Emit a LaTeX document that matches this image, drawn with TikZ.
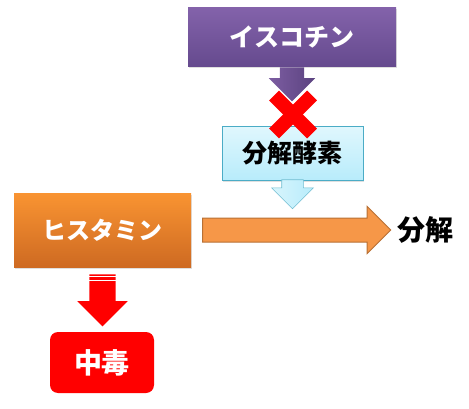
\documentclass[tikz,border=0pt]{standalone}
\usepackage{fontspec}
\usepackage{tikz}
\usetikzlibrary{positioning,shapes.arrows,shadows,calc}
\setmainfont{Noto Sans CJK JP}

\definecolor{isctop}{RGB}{131,98,170}
\definecolor{iscbot}{RGB}{101,74,142}
\definecolor{histop}{RGB}{249,148,50}
\definecolor{hisbot}{RGB}{206,106,34}
\definecolor{enztop}{RGB}{224,247,253}
\definecolor{enzbot}{RGB}{184,236,251}
\definecolor{enzline}{RGB}{75,172,198}
\definecolor{harrow}{RGB}{246,151,72}
\definecolor{harrowline}{RGB}{184,112,52}
\definecolor{poisonred}{RGB}{255,0,0}

\tikzset{
  box/.style={inner sep=0pt, font=\bfseries\fontsize{25}{25}\selectfont},
  softshadow/.style={drop shadow={opacity=0.25, shadow xshift=1pt, shadow yshift=-1.5pt}},
  blockarrow/.style n args={3}{single arrow, anchor=west, inner xsep=0pt,
    inner ysep=#2, single arrow head extend=#3, minimum height=#1},
}

\begin{document}
\begin{tikzpicture}[x=1pt,y=1pt]
  \useasboundingbox (0,0) rectangle (469,408);
  % boxes
  \node[box, text=white, minimum width=208pt, minimum height=59pt,
        top color=isctop, bottom color=iscbot, softshadow] (isc) at (292,370.5) {イスコチン};
  \node[box, minimum width=141pt, minimum height=54pt, draw=enzline, line width=0.8pt,
        top color=enztop, bottom color=enzbot, softshadow] (enz) at (292.5,255) {分解酵素};
  \node[box, text=white, minimum width=177pt, minimum height=74pt,
        font=\bfseries\fontsize{24}{24}\selectfont,
        top color=histop, bottom color=hisbot, softshadow] (his) at (102.5,178) {ヒスタミン};
  \node[box, font=\bfseries\fontsize{28}{28}\selectfont, anchor=west] (res) at (397,178) {分解};
  \node[box, text=white, minimum width=104pt, minimum height=61pt, rounded corners=8pt,
        fill=poisonred, font=\bfseries\fontsize{28}{28}\selectfont] (poison) at (102,45.5) {中毒};
  % arrows
  \node[blockarrow={34pt}{12pt}{11pt}, rotate=-90, left color=isctop!95!black,
        right color=iscbot!90!black] (iarrow) at (isc.south) {};
  \node[blockarrow={29pt}{10.5pt}{10pt}, rotate=-90, draw=enzline!80, line width=0.6pt,
        left color=enztop!80!enzbot, right color=enzbot] (earrow) at ($(enz.south)+(0,1)$) {};
  \node[blockarrow={188pt}{11.5pt}{11.5pt}, fill=harrow, draw=harrowline,
        line width=1pt] (harr) at ($(his.east)+(11,0)$) {};
  \node[blockarrow={52pt}{13pt}{12pt}, rotate=-90, fill=poisonred] (parrow) at ($(his.south)+(0,-7)$) {};
  \foreach \d in {2.5,6}
    \draw[white, line width=0.8pt] ($(parrow.before tail)+(0,-\d)$) -- ($(parrow.after tail)+(0,-\d)$);
  % cross
  \coordinate (cross) at (293,293.5);
  \draw[poisonred, line width=14pt] ($(cross)+(-19,19)$) -- ($(cross)+(19,-19)$);
  \draw[poisonred, line width=14pt] ($(cross)+(-19,-19)$) -- ($(cross)+(19,19)$);
\end{tikzpicture}
\end{document}
